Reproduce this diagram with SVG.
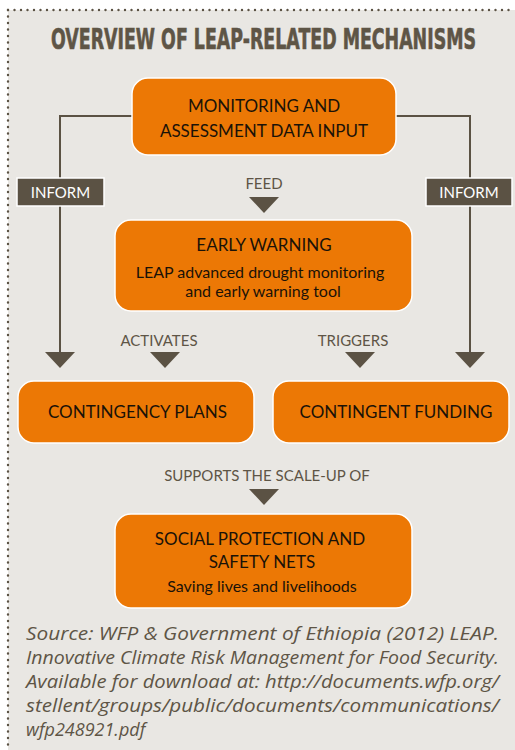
<svg xmlns="http://www.w3.org/2000/svg" width="515" height="750" viewBox="0 0 515 750">
<style>
.bg{fill:#E9E7E3}
.dots{stroke:#5B5244;stroke-width:2.4;stroke-linecap:round;stroke-dasharray:0 6.5;fill:none}
.title{font-family:"DejaVu Sans",sans-serif;font-weight:bold;font-size:29px;fill:#5E5546;stroke:#5E5546;stroke-width:0.7;text-anchor:middle}
.box{fill:#EC7805;stroke:#FFFFFF;stroke-width:1.5}
.bt{font-family:Lato,"Open Sans",sans-serif;font-size:17px;fill:#1A1208;text-anchor:middle}
.bs{font-family:Lato,"Open Sans",sans-serif;font-size:16px;fill:#1A1208;text-anchor:middle}
.lab{font-family:Lato,"Open Sans",sans-serif;font-size:15px;fill:#5E5546;text-anchor:middle}
.tag{fill:#5B5244;stroke:#FFFFFF;stroke-width:1.5}
.tagt{font-family:Lato,"Open Sans",sans-serif;font-size:15px;fill:#FFFFFF;text-anchor:middle}
.line{stroke:#5B5244;stroke-width:2;fill:none}
.tri{fill:#5B5244}
.src{font-family:"Open Sans",Lato,sans-serif;font-style:italic;font-size:18px;fill:#5E5546}
</style>
<rect class="bg" x="8" y="10" width="507" height="740"/>
<line class="dots" x1="8" y1="10" x2="515" y2="10"/>
<line class="dots" x1="8" y1="10" x2="8" y2="750"/>
<text class="title" x="0" y="0" transform="translate(263.5,49) scale(0.6,1)">OVERVIEW OF LEAP-RELATED MECHANISMS</text>
<g id="connectors">
<polyline class="line" points="132,116 60,116 60,354"/>
<polyline class="line" points="396,116 470,116 470,354"/>
<polygon class="tri" points="45,352 75,352 60,368"/>
<polygon class="tri" points="455,352 485,352 470,368"/>
<polygon class="tri" points="249,197 279,197 264,213"/>
<polygon class="tri" points="150,352 180,352 165,368"/>
<polygon class="tri" points="345,352 375,352 360,368"/>
<polygon class="tri" points="249,489 279,489 264,505"/>
<g id="inform-left"><rect class="tag" x="17" y="178" width="87" height="28"/><text class="tagt" x="60.5" y="198">INFORM</text></g>
<g id="inform-right"><rect class="tag" x="426" y="178" width="86" height="28"/><text class="tagt" x="469" y="198">INFORM</text></g>
<text class="lab" x="264" y="189">FEED</text>
<text class="lab" x="159" y="346">ACTIVATES</text>
<text class="lab" x="353" y="346">TRIGGERS</text>
<text class="lab" x="267" y="481">SUPPORTS THE SCALE-UP OF</text>
</g>
<g id="monitoring">
<rect class="box" x="132" y="78" width="264" height="77" rx="16"/>
<text class="bt" x="264" y="112">MONITORING AND</text>
<text class="bt" x="264" y="137">ASSESSMENT DATA INPUT</text>
</g>
<g id="early-warning">
<rect class="box" x="115" y="220" width="297" height="91" rx="16"/>
<text class="bt" x="264" y="251">EARLY WARNING</text>
<text class="bs" x="260" y="278">LEAP advanced drought monitoring</text>
<text class="bs" x="263" y="297">and early warning tool</text>
</g>
<g id="contingency-plans">
<rect class="box" x="18" y="381" width="236" height="62" rx="16"/>
<text class="bt" x="137.5" y="418">CONTINGENCY PLANS</text>
</g>
<g id="contingent-funding">
<rect class="box" x="273" y="381" width="236" height="62" rx="16"/>
<text class="bt" x="396" y="418">CONTINGENT FUNDING</text>
</g>
<g id="social-protection">
<rect class="box" x="115" y="514" width="297" height="94" rx="16"/>
<text class="bt" x="260" y="545">SOCIAL PROTECTION AND</text>
<text class="bt" x="262" y="568">SAFETY NETS</text>
<text class="bs" x="262" y="592">Saving lives and livelihoods</text>
</g>
<g id="source">
<text class="src" x="26" y="640" textLength="473" lengthAdjust="spacingAndGlyphs">Source: WFP &amp; Government of Ethiopia (2012) LEAP.</text>
<text class="src" x="26" y="664" textLength="473" lengthAdjust="spacingAndGlyphs">Innovative Climate Risk Management for Food Security.</text>
<text class="src" x="26" y="688" textLength="473" lengthAdjust="spacingAndGlyphs">Available for download at: http://documents.wfp.org/</text>
<text class="src" x="26" y="712" textLength="473" lengthAdjust="spacingAndGlyphs">stellent/groups/public/documents/communications/</text>
<text class="src" x="26" y="736">wfp248921.pdf</text>
</g>
</svg>
